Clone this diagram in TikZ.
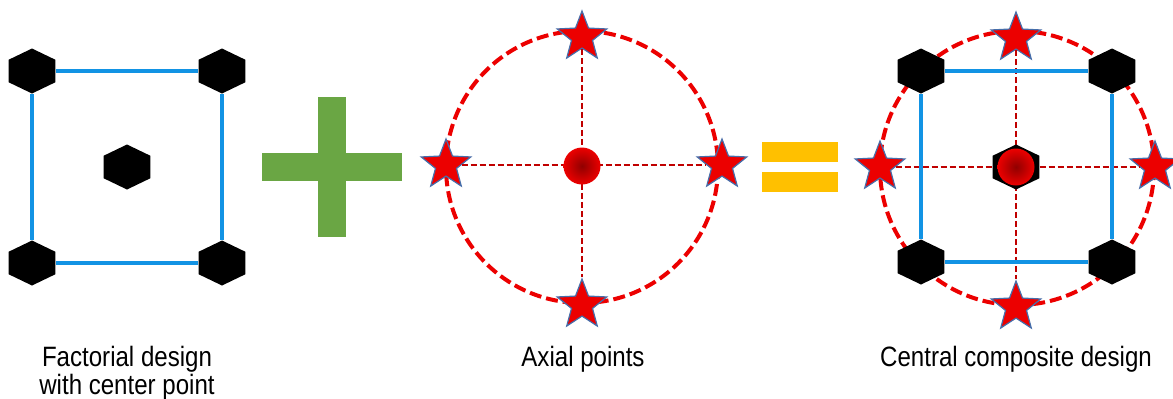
\documentclass[tikz,border=0pt]{standalone}
\usepackage{fontspec}
\setmainfont{Liberation Sans}
\usepackage{tikz}
\usetikzlibrary{shapes.geometric}
\definecolor{ccdblue}{RGB}{18,147,228}
\definecolor{ccdred}{RGB}{236,0,0}
\definecolor{ccddark}{RGB}{192,0,0}
\definecolor{ccdgreen}{RGB}{106,166,68}
\definecolor{ccdgold}{RGB}{255,192,0}
\definecolor{ccdedge}{RGB}{70,110,170}

\begin{document}
\begin{tikzpicture}[x=0.5pt, y=-0.5pt,
      hexpt/.style={regular polygon, regular polygon sides=6, shape border rotate=30,
                    fill=black, minimum size=22.5pt, inner sep=0pt, xscale=1.2},
      starpt/.style={star, star points=5, star point ratio=2.35, fill=ccdred,
                     draw=ccdedge, line width=0.6pt, minimum size=26pt, inner sep=0pt},
      ctrpt/.style={circle, inner sep=0pt, minimum size=18.5pt,
                    inner color=ccddark!75!black, outer color=ccdred},
      cube/.style={ccdblue, line width=2pt},
      ring/.style={ccdred, line width=2pt, dash pattern=on 6pt off 2.5pt},
      axis/.style={ccddark, line width=1pt, dash pattern=on 3pt off 1.5pt},
      lbl/.style={font=\fontsize{14pt}{12.5pt}\selectfont, align=center,
                  anchor=north, inner sep=0pt, xscale=0.86}
  ]
    \useasboundingbox (0,0) rectangle (1173,398);

    % factorial design
    \node[hexpt] (f1) at (32,71) {};
    \node[hexpt] (f2) at (222,71) {};
    \node[hexpt] (f3) at (32,263) {};
    \node[hexpt] (f4) at (222,263) {};
    \node[hexpt] (f0) at (127,167) {};
    \draw[cube] (f1)--(f2); \draw[cube] (f2)--(f4);
    \draw[cube] (f4)--(f3); \draw[cube] (f3)--(f1);

    % plus
    \fill[ccdgreen] (262,153) rectangle (402,181);
    \fill[ccdgreen] (318,97) rectangle (346,237);

    % axial points
    \draw[ring] (582,167) circle[radius=136];
    \node[starpt] (a1) at (582,37) {};
    \node[starpt] (a2) at (446,165) {};
    \node[starpt] (a3) at (722,165) {};
    \node[starpt] (a4) at (582,305) {};
    \draw[axis] (a2)--(a3); \draw[axis] (a1)--(a4);
    \node[ctrpt] (a0) at (582,166) {};

    % equals
    \fill[ccdgold] (762,142) rectangle (838,162);
    \fill[ccdgold] (762,172) rectangle (838,192);

    % central composite design
    \draw[ring] (1017,168) circle[radius=137];
    \node[hexpt] (c1) at (921,71) {};
    \node[hexpt] (c2) at (1112,71) {};
    \node[hexpt] (c3) at (921,262) {};
    \node[hexpt] (c4) at (1112,262) {};
    \node[starpt] (s1) at (1016,38) {};
    \node[starpt] (s2) at (880,167) {};
    \node[starpt] (s3) at (1155,167) {};
    \node[starpt] (s4) at (1016,307) {};
    \draw[axis] (s2)--(s3); \draw[axis] (s1)--(s4);
    \draw[cube] (c1)--(c2); \draw[cube] (c2)--(c4);
    \draw[cube] (c4)--(c3); \draw[cube] (c3)--(c1);
    \node[hexpt] (c0) at (1016,167) {};
    \node[ctrpt] (s0) at (1016,167) {};

    \node[lbl] (t1) at (127,346) {Factorial design\\with center point};
    \node[lbl] (t2) at (583,346) {Axial points};
    \node[lbl] (t3) at (1016,346) {Central composite design};
  \end{tikzpicture}
\end{document}
